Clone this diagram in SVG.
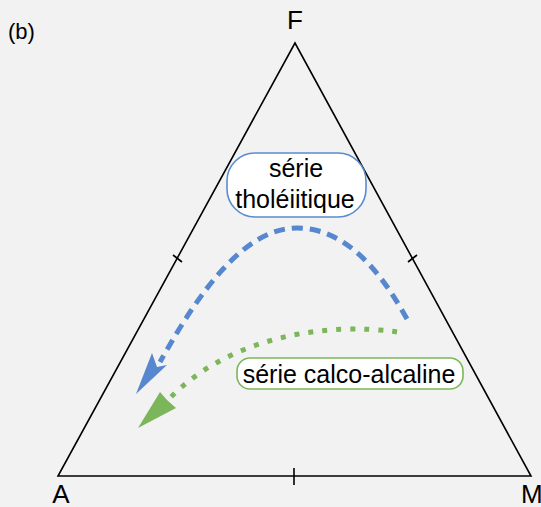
<svg xmlns="http://www.w3.org/2000/svg" width="541" height="507" viewBox="0 0 541 507">
<style>
.lbl{font-family:"Liberation Sans",Arial,sans-serif;font-size:26px;fill:#000}
.box{font-family:"Liberation Sans",Arial,sans-serif;font-size:25px;fill:#000;text-anchor:middle}
.axis{fill:none;stroke:#000;stroke-width:1.6}
</style>
<rect width="541" height="507" fill="#f2f2f2"/>
<text x="8" y="39" style="font-family:'Liberation Sans',Arial,sans-serif;font-size:22px">(b)</text>
<g id="triangle">
<path class="axis" d="M295,43 L58,476 L531,476 Z"/>
<path class="axis" d="M294,468 L294,485 M173,255 L182,262 M408,262 L417,255"/>
</g>
<g id="vertex-F"><text class="lbl" x="295" y="29" text-anchor="middle">F</text></g>
<g id="vertex-A"><text class="lbl" x="61" y="503" text-anchor="middle">A</text></g>
<g id="vertex-M"><text class="lbl" x="521" y="503">M</text></g>
<g id="connectors">
<path d="M407,319 C380,270 345,228 297,228 C245,228 200,290 160,362" fill="none" stroke="#5687cf" stroke-width="5" stroke-dasharray="11 7"/>
<polygon points="136,394 152,353 157,367 167,365" fill="#5687cf"/>
<path d="M397,332 C330,322 230,335 168,400" fill="none" stroke="#7cb65a" stroke-width="5" stroke-dasharray="5 9"/>
<polygon points="138,428 160,392 167,400 176,408" fill="#7cb65a"/>
</g>
<g id="node-tholeiitique">
<rect x="227" y="153" width="139" height="64" rx="28" fill="#fff" stroke="#5b8bd0" stroke-width="1.6"/>
<text class="box" x="296" y="177">série</text>
<text class="box" x="295" y="208">tholéiitique</text>
</g>
<g id="node-calco-alcaline">
<rect x="237" y="358" width="226" height="31" rx="13" fill="#fff" stroke="#7cb65a" stroke-width="1.6"/>
<text class="box" x="349" y="383">série calco-alcaline</text>
</g>
</svg>
